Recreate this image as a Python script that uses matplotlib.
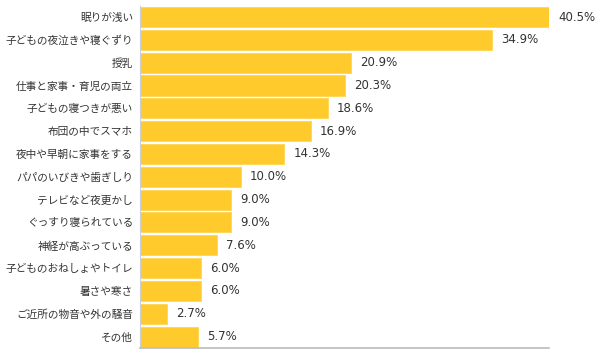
import matplotlib
matplotlib.use('Agg')
import matplotlib.pyplot as plt

plt.rcParams['font.family'] = ['Noto Sans CJK JP', 'DejaVu Sans']

labels = ['眠りが浅い', '子どもの夜泣きや寝ぐずり', '授乳', '仕事と家事・育児の両立',
          '子どもの寝つきが悪い', '布団の中でスマホ', '夜中や早朝に家事をする',
          'パパのいびきや歯ぎしり', 'テレビなど夜更かし', 'ぐっすり寝られている',
          '神経が高ぶっている', '子どものおねしょやトイレ', '暑さや寒さ',
          'ご近所の物音や外の騒音', 'その他']
values = [40.5, 34.9, 20.9, 20.3, 18.6, 16.9, 14.3, 10.0, 9.0, 9.0,
          7.6, 6.0, 6.0, 2.7, 5.7]

W, H = 601, 355
fig = plt.figure(figsize=(W / 100, H / 100), dpi=100)
ax = fig.add_axes([140 / W, 1 - 348 / H, (549 - 140) / W, (348 - 5.6) / H])

y = range(len(labels))
ax.barh(y, values, height=0.88, color='#FFCA2C', edgecolor='#FFD552', linewidth=0.6)
ax.set_xlim(0, 40.5)
ax.set_ylim(len(labels) - 0.5, -0.5)

for i, v in enumerate(values):
    ax.text(v + 0.9, i, f'{v:.1f}%', va='center', ha='left',
            fontsize=8.5, color='#333333', family=['DejaVu Sans'])

ax.set_yticks(list(y))
ax.set_yticklabels(labels, fontsize=7.7, color='#333333')
ax.tick_params(axis='y', length=0, pad=5)
ax.set_xticks([])
for s in ['top', 'right']:
    ax.spines[s].set_visible(False)
ax.spines['left'].set_color('#C9CFDD')
ax.spines['bottom'].set_color('#BBBBBB')
ax.spines['bottom'].set_linewidth(1.2)

fig.savefig('out.png', dpi=100)
